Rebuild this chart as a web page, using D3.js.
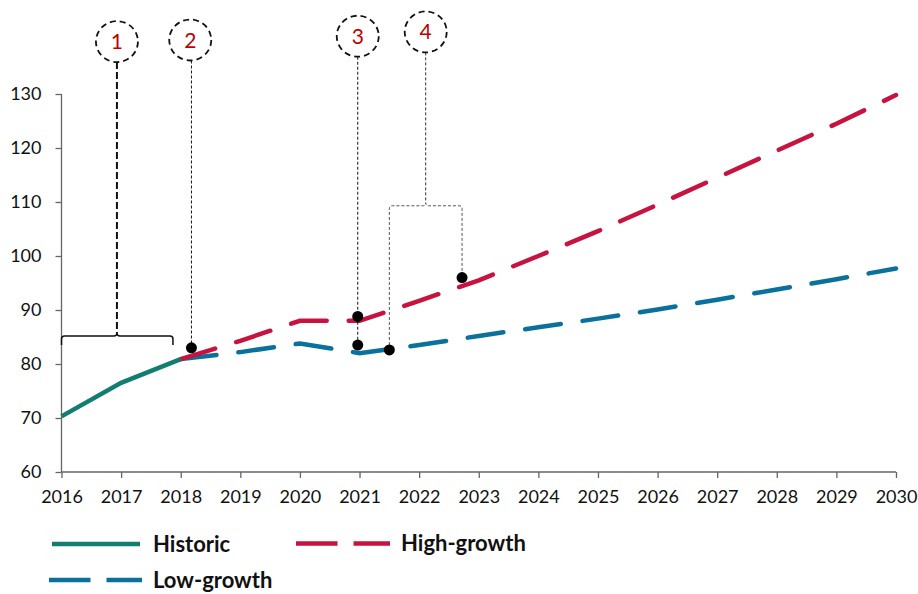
<!DOCTYPE html>
<html>
<head>
<meta charset="utf-8">
<script src="https://cdn.jsdelivr.net/npm/d3@7"></script>
<style>
    body { margin:0; background:white; }
    text { font-family: Lato, "Open Sans", sans-serif; }
    .tick text { font-size:18px; fill:#111; }
    .legend text { font-size:22px; font-weight:bold; fill:#111; }
    .num { font-size:21px; fill:#c00000; }
</style>
</head>
<body>
<svg id="lineGraph"></svg>
<script>

//data
var historicYears = [2016, 2017, 2018];
var historicValues = [70.3, 76.5, 80.9];

var forecastYears = [2018, 2019, 2020, 2021, 2022, 2023, 2024, 2025, 2026, 2027, 2028, 2029, 2030];
var highValues = [80.9, 84.3, 88.0, 88.0, 91.7, 95.5, 100.0, 104.6, 109.5, 114.5, 119.5, 124.5, 129.8];
var lowValues  = [80.9, 82.2, 83.8, 82.0, 83.5, 85.2, 86.8, 88.4, 90.1, 91.9, 93.8, 95.7, 97.7];

var xTicks = [2016, 2017, 2018, 2019, 2020, 2021, 2022, 2023, 2024, 2025, 2026, 2027, 2028, 2029, 2030];
var yTicks = [60, 70, 80, 90, 100, 110, 120, 130];

//annotation callouts (year, value)
var calloutLabels = ["1", "2", "3", "4"];
var calloutYears = [2016.93, 2018.16, 2020.97, 2022.11];
var calloutValues = [139.7, 140.0, 140.7, 141.5];

var dotYears = [2018.18, 2020.97, 2020.97, 2021.5, 2022.72];
var dotValues = [83.0, 88.8, 83.5, 82.6, 96.0];

//brace under callout 1
var braceYears = [2016, 2017.87];
var braceValue = 85.2;
var braceDrop = 83.5;

//bracket under callout 4
var bracketValue = 109.3;

var colors = {historic:"#127e72", high:"#c8123f", low:"#0a719c"};

var screen = {width:918, height:594};
var margins = {top:94, bottom:122, left:61.5, right:22};
var graph = {
    width:screen.width-margins.left-margins.right,
    height:screen.height-margins.top-margins.bottom
};

var svg = d3.select("svg#lineGraph")
    .attr("width",screen.width)
    .attr("height",screen.height);

var xScale = d3.scaleLinear()
    .domain([2016, 2030])
    .range([margins.left, margins.left+graph.width]);

var yScale = d3.scaleLinear()
    .domain([60, 130])
    .range([margins.top+graph.height, margins.top]);

//axes
var xAxis = d3.axisBottom(xScale)
    .tickValues(xTicks)
    .tickFormat(d3.format("d"))
    .tickSize(6)
    .tickPadding(9);
var yAxis = d3.axisLeft(yScale)
    .tickValues(yTicks)
    .tickSize(6)
    .tickPadding(14);

var axes = svg.append("g");
var gx = axes.append("g")
    .attr("transform","translate(0,"+yScale(60)+")")
    .call(xAxis);
var gy = axes.append("g")
    .attr("transform","translate("+xScale(2016)+",0)")
    .call(yAxis);
axes.selectAll(".domain").attr("stroke","#666").attr("stroke-width",1.3);
axes.selectAll(".tick line").attr("stroke","#666").attr("stroke-width",1.3);
gy.select(".domain").attr("d","M0,"+yScale(130)+"V"+yScale(60));
gx.select(".domain").attr("d","M"+xScale(2016)+",0H"+xScale(2030));
gx.selectAll(".tick text").attr("dy","0.9em");

//lines
var lineGenerator = function(years) {
    return d3.line()
        .x(function(d,i){return xScale(years[i]);})
        .y(function(d){return yScale(d);});
};

var lines = svg.append("g")
    .attr("fill","none")
    .attr("stroke-width",4.5);

lines.append("path")
    .datum(lowValues)
    .attr("stroke",colors.low)
    .attr("stroke-linecap","round")
    .attr("stroke-dasharray","36,22")
    .attr("d",lineGenerator(forecastYears));

lines.append("path")
    .datum(highValues)
    .attr("stroke",colors.high)
    .attr("stroke-linecap","round")
    .attr("stroke-dasharray","36,22")
    .attr("d",lineGenerator(forecastYears));

lines.append("path")
    .datum(historicValues)
    .attr("stroke",colors.historic)
    .attr("d",lineGenerator(historicYears));

//annotations
var notes = svg.append("g").attr("fill","none");
var r = 20.5;

//brace for 1
var bx0 = xScale(braceYears[0]), bx1 = xScale(braceYears[1]);
var by = yScale(braceValue), byd = yScale(braceDrop);
var bmid = xScale(calloutYears[0]);
notes.append("path")
    .attr("stroke","#111")
    .attr("stroke-width",1.5)
    .attr("d","M"+bx0+","+byd+"V"+(by+3)+"Q"+bx0+","+by+" "+(bx0+3)+","+by+
        "H"+(bmid-3)+"Q"+bmid+","+by+" "+bmid+","+(by-3)+
        "Q"+bmid+","+by+" "+(bmid+3)+","+by+
        "H"+(bx1-3)+"Q"+bx1+","+by+" "+bx1+","+(by+3)+"V"+byd);

notes.append("line")
    .attr("stroke","#111")
    .attr("stroke-width",2)
    .attr("stroke-dasharray","7,3")
    .attr("x1",bmid).attr("x2",bmid)
    .attr("y1",yScale(calloutValues[0])+r)
    .attr("y2",by-3);

//thin leaders for 2 and 3
notes.append("line")
    .attr("stroke","#111")
    .attr("stroke-dasharray","3,2")
    .attr("x1",xScale(dotYears[0])).attr("x2",xScale(dotYears[0]))
    .attr("y1",yScale(calloutValues[1])+r)
    .attr("y2",yScale(dotValues[0]));

notes.append("line")
    .attr("stroke","#111")
    .attr("stroke-dasharray","3,2")
    .attr("x1",xScale(calloutYears[2])).attr("x2",xScale(dotYears[2]))
    .attr("y1",yScale(calloutValues[2])+r)
    .attr("y2",yScale(dotValues[2]));

//bracket for 4
var kx0 = xScale(dotYears[3]), kx1 = xScale(dotYears[4]);
var ky = yScale(bracketValue);
var kmid = xScale(calloutYears[3]);
notes.append("line")
    .attr("stroke","#333")
    .attr("stroke-dasharray","3,2")
    .attr("x1",kmid).attr("x2",kmid)
    .attr("y1",yScale(calloutValues[3])+r)
    .attr("y2",ky-3);
notes.append("path")
    .attr("stroke","#555")
    .attr("stroke-dasharray","3,2")
    .attr("d","M"+kx0+","+yScale(dotValues[3])+"V"+(ky+3)+"Q"+kx0+","+ky+" "+(kx0+3)+","+ky+
        "H"+(kmid-3)+"Q"+kmid+","+ky+" "+kmid+","+(ky-3)+
        "Q"+kmid+","+ky+" "+(kmid+3)+","+ky+
        "H"+(kx1-3)+"Q"+kx1+","+ky+" "+kx1+","+(ky+3)+"V"+yScale(dotValues[4]));

//dots
svg.append("g").selectAll("circle")
    .data(dotValues)
    .enter()
    .append("circle")
    .attr("fill","#000")
    .attr("r",5.5)
    .attr("cx",function(d,i){return xScale(dotYears[i]);})
    .attr("cy",function(d){return yScale(d);});

//callout circles
var callouts = svg.append("g").selectAll("g")
    .data(calloutLabels)
    .enter()
    .append("g")
    .attr("transform",function(d,i){
        return "translate("+xScale(calloutYears[i])+","+yScale(calloutValues[i])+")";
    });
callouts.append("ellipse")
    .attr("rx",r+0.5).attr("ry",r)
    .attr("fill","white")
    .attr("stroke","#111")
    .attr("stroke-width",1.8)
    .attr("stroke-dasharray","6,4");
callouts.append("text")
    .classed("num",true)
    .attr("text-anchor","middle")
    .attr("dy","0.36em")
    .text(function(d){return d;});

//legend
var legend = svg.append("g").classed("legend",true);
var legendItems = [
    {name:"Historic", color:colors.historic, dash:null, x1:52, x2:140, tx:153, y:544},
    {name:"High-growth", color:colors.high, dash:"41.5,16", x1:296, x2:390, tx:401, y:543.5},
    {name:"Low-growth", color:colors.low, dash:"41.5,16", x1:49, x2:142, tx:153, y:580}
];
legendItems.forEach(function(item){
    legend.append("line")
        .attr("x1",item.x1).attr("x2",item.x2)
        .attr("y1",item.y).attr("y2",item.y)
        .attr("stroke",item.color)
        .attr("stroke-width",4.5)
        .attr("stroke-dasharray",item.dash);
    legend.append("text")
        .attr("x",item.tx)
        .attr("y",item.y)
        .attr("dy","0.36em")
        .text(item.name);
});

</script>
</body>
</html>
